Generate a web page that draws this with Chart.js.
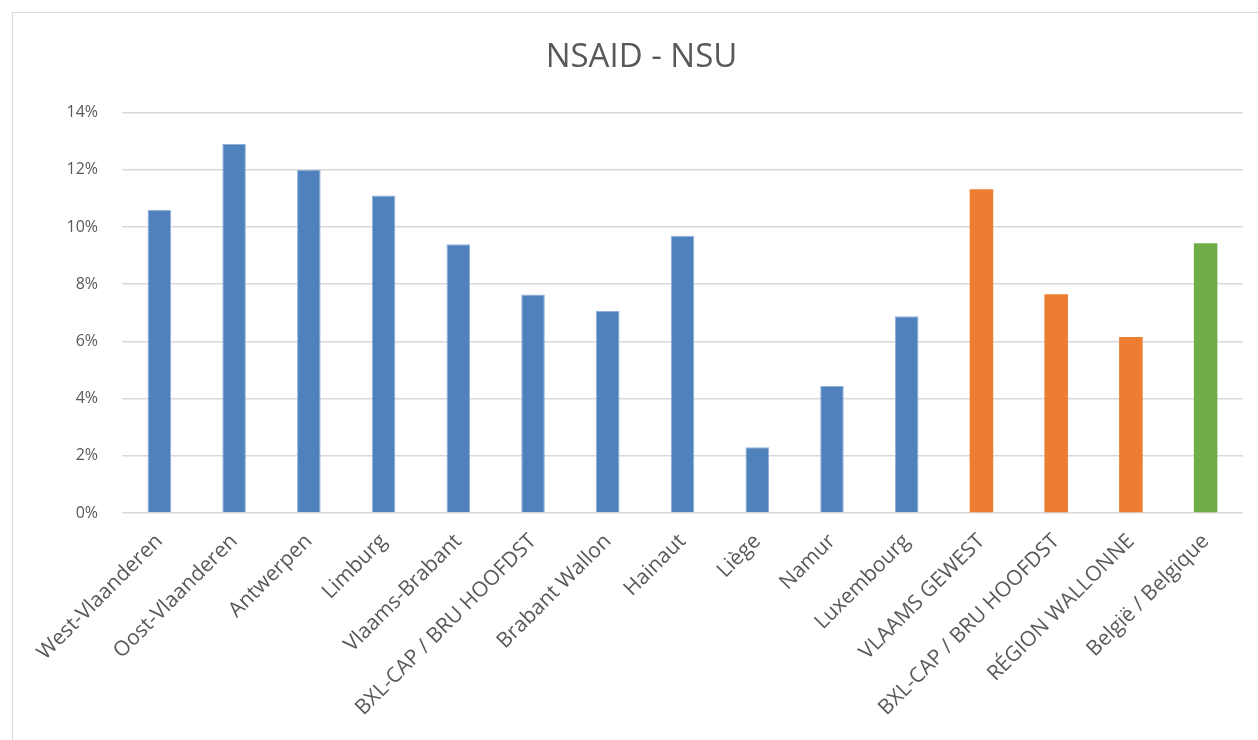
<!DOCTYPE html>
<html>
<head>
<meta charset="utf-8">
<script src="https://cdn.jsdelivr.net/npm/chart.js@4/dist/chart.umd.min.js"></script>
<style>
  html, body { margin: 0; padding: 0; background: #fff; overflow: hidden; }
  #frame { position: absolute; left: 12px; top: 12px; width: 1270px; height: 760px; border: 1.5px solid #d9d9d9; box-sizing: border-box; }
  #wrap { position: absolute; left: 0; top: 0; width: 1258px; height: 740px; }
</style>
</head>
<body>
<div id="frame"></div>
<div id="wrap"><canvas id="c" width="1258" height="740"></canvas></div>
<script>
const title = 'NSAID - NSU';
const categories = ['West-Vlaanderen', 'Oost-Vlaanderen', 'Antwerpen', 'Limburg', 'Vlaams-Brabant',
  'BXL-CAP / BRU HOOFDST', 'Brabant Wallon', 'Hainaut', 'Liège', 'Namur', 'Luxembourg',
  'VLAAMS GEWEST', 'BXL-CAP / BRU HOOFDST', 'RÉGION WALLONNE', 'België / Belgique'];
const values = [10.6, 12.9, 12.0, 11.1, 9.4, 7.64, 7.06, 9.69, 2.3, 4.44, 6.88, 11.32, 7.65, 6.15, 9.43];
const groups = ['prov', 'prov', 'prov', 'prov', 'prov', 'prov', 'prov', 'prov', 'prov', 'prov', 'prov',
  'region', 'region', 'region', 'country'];
const yTicks = [0, 2, 4, 6, 8, 10, 12, 14];

const fillColors = { prov: '#4F81BD', region: '#ED7D31', country: '#70AD47' };
const edgeColors = { prov: '#8FB0DA', region: '#ED7D31', country: '#70AD47' };

const FONT = "'Open Sans', Lato, sans-serif";

new Chart(document.getElementById('c'), {
  type: 'bar',
  data: {
    labels: categories,
    datasets: [{
      data: values,
      backgroundColor: groups.map(g => fillColors[g]),
      borderColor: groups.map(g => edgeColors[g]),
      borderWidth: groups.map(g => g === 'prov' ? 1 : 0),
      categoryPercentage: 1,
      barPercentage: 0.315
    }]
  },
  options: {
    responsive: false,
    animation: false,
    layout: { padding: { left: 40, right: 15, top: 0, bottom: 0 } },
    plugins: {
      legend: { display: false },
      tooltip: { enabled: false },
      title: {
        display: true,
        text: title,
        color: '#595959',
        font: { family: FONT, size: 33, weight: 'normal', lineHeight: 1.2 },
        padding: { top: 38, bottom: 35 }
      }
    },
    scales: {
      x: {
        grid: { display: false },
        border: { display: false },
        ticks: {
          color: '#595959',
          font: { family: FONT, size: 21 },
          minRotation: 45,
          maxRotation: 45,
          autoSkip: false,
          padding: 8
        },
        afterFit: s => { s.height = 227; }
      },
      y: {
        min: 0,
        max: 14,
        afterBuildTicks: s => { s.ticks = yTicks.map(v => ({ value: v })); },
        grid: { color: '#d9d9d9', lineWidth: 1.5, drawTicks: false },
        border: { display: false },
        ticks: {
          color: '#595959',
          font: { family: FONT, size: 16 },
          padding: 24,
          callback: v => v + '%'
        },
        afterFit: s => { s.width = 82; }
      }
    }
  }
});
</script>
</body>
</html>
